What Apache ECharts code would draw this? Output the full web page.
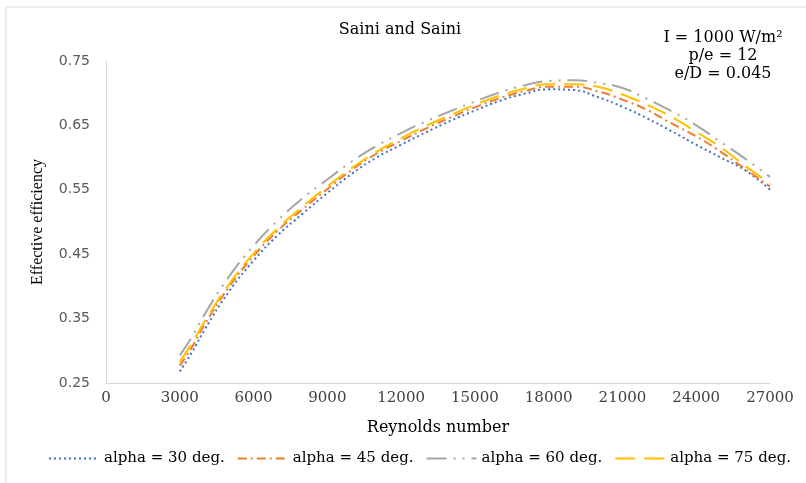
<!DOCTYPE html>
<html>
<head>
<meta charset="utf-8">
<script src="https://cdn.jsdelivr.net/npm/echarts@6/dist/echarts.min.js"></script>
<style>
  html, body { margin: 0; padding: 0; background: #fff; }
  #chart { width: 806px; height: 483px; }
</style>
</head>
<body>
<div id="chart"></div>
<script>
// Reynolds number (x) and effective efficiency per angle
const reynolds = [3000, 3500, 4000, 5000, 6000, 7000, 8000, 9000, 10000, 11000, 12000, 13000, 14000,
  15000, 16000, 17000, 18000, 19000, 20000, 21000, 22000, 23000, 24000, 25000, 26000, 27000];
const alpha30 = [0.268, 0.298, 0.332, 0.392, 0.440, 0.480, 0.513, 0.545, 0.575, 0.600, 0.620, 0.639, 0.657,
  0.673, 0.688, 0.699, 0.706, 0.705, 0.694, 0.679, 0.661, 0.641, 0.620, 0.600, 0.580, 0.550];
const alpha45 = [0.277, 0.306, 0.340, 0.399, 0.447, 0.487, 0.520, 0.551, 0.581, 0.606, 0.626, 0.645, 0.662,
  0.678, 0.692, 0.703, 0.710, 0.710, 0.703, 0.690, 0.674, 0.653, 0.633, 0.609, 0.582, 0.555];
const alpha60 = [0.293, 0.322, 0.356, 0.415, 0.463, 0.503, 0.537, 0.566, 0.594, 0.618, 0.638, 0.656, 0.672,
  0.687, 0.701, 0.712, 0.719, 0.720, 0.716, 0.708, 0.691, 0.672, 0.650, 0.624, 0.598, 0.570];
const alpha75 = [0.283, 0.312, 0.345, 0.403, 0.451, 0.491, 0.524, 0.555, 0.584, 0.609, 0.630, 0.649, 0.666,
  0.682, 0.696, 0.707, 0.714, 0.714, 0.710, 0.698, 0.682, 0.663, 0.640, 0.616, 0.587, 0.560];
const seriesNames = ['alpha = 30 deg.', 'alpha = 45 deg.', 'alpha = 60 deg.', 'alpha = 75 deg.'];

const serif = 'DejaVu Serif';

function pairs(ys) {
  return reynolds.map((x, i) => [x, ys[i]]);
}

function lineSeries(name, ys, color, dash) {
  return {
    name: name,
    type: 'line',
    data: pairs(ys),
    smooth: true,
    symbol: 'none',
    lineStyle: { color: color, width: 2, type: dash },
    itemStyle: { color: color },
  };
}

let myChart = echarts.init(document.getElementById('chart'));
let option = {
  animation: false,
  backgroundColor: '#fff',
  title: {
    text: 'Saini and Saini',
    left: 395,
    top: 17,
    textAlign: 'center',
    textStyle: { fontFamily: serif, fontSize: 16, fontWeight: 'normal', color: '#000' },
  },
  graphic: [
    {
      type: 'rect',
      shape: { x: 6, y: 7, width: 830, height: 500 },
      style: { fill: 'none', stroke: '#d9d9d9', lineWidth: 1 },
      silent: true,
    },
    {
      type: 'text',
      x: 723,
      y: 29,
      style: {
        text: 'I = 1000 W/m²\np/e = 12\ne/D = 0.045',
        align: 'center',
        font: '16px "DejaVu Serif"',
        lineHeight: 18,
        fill: '#000',
      },
    },
  ],
  legend: {
    data: seriesNames,
    left: 43,
    top: 446,
    itemWidth: 50,
    itemHeight: 14,
    itemGap: 12,
    itemStyle: { opacity: 0 },
    textStyle: { fontFamily: serif, fontSize: 15, color: '#000' },
  },
  grid: {
    left: 106,
    right: 36,
    top: 61,
    bottom: 100,
    containLabel: false,
  },
  xAxis: {
    type: 'value',
    min: 0,
    max: 27000,
    interval: 3000,
    name: 'Reynolds number',
    nameLocation: 'middle',
    nameGap: 37,
    nameTextStyle: { fontFamily: serif, fontSize: 16, color: '#000' },
    axisLine: { show: true, lineStyle: { color: '#d9d9d9', width: 1 } },
    axisTick: { show: false },
    axisLabel: {
      margin: 8,
      fontFamily: serif,
      fontSize: 15,
      color: '#404040',
      formatter: (v) => String(v),
    },
    splitLine: { show: false },
  },
  yAxis: {
    type: 'value',
    min: 0.25,
    max: 0.75,
    interval: 0.1,
    name: 'Effective efficiency',
    nameLocation: 'middle',
    nameRotate: 90,
    nameGap: 60,
    nameTextStyle: { fontFamily: 'Liberation Serif', fontSize: 16, color: '#000' },
    axisLine: { show: true, lineStyle: { color: '#d9d9d9', width: 1 } },
    axisTick: { show: false },
    axisLabel: {
      margin: 16,
      fontFamily: 'DejaVu Sans',
      fontSize: 14,
      color: '#595959',
      formatter: (v) => v.toFixed(2),
    },
    splitLine: { show: false },
  },
  series: [
    lineSeries(seriesNames[0], alpha30, '#4472C4', [2, 3]),
    lineSeries(seriesNames[1], alpha45, '#ED7D31', [9, 4, 2, 4]),
    lineSeries(seriesNames[2], alpha60, '#A5A5A5', [20, 7, 2, 7, 2, 7]),
    lineSeries(seriesNames[3], alpha75, '#FFC000', [20, 9]),
  ],
};
myChart.setOption(option, true);
</script>
</body>
</html>
